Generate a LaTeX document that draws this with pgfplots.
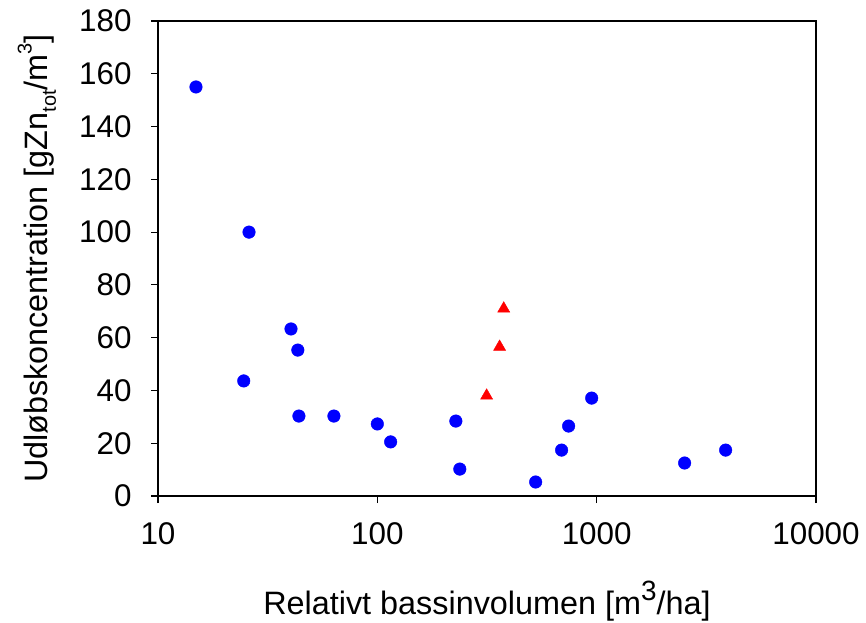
\documentclass[border=0pt]{standalone}
\usepackage{fontspec}
\setmainfont{Liberation Sans}
\usepackage{pgfplots}
\pgfplotsset{compat=1.18}
\begin{document}
\begin{tikzpicture}
\useasboundingbox (-158bp,-127bp) rectangle (708bp,496bp);
\begin{axis}[
  at={(0,0)}, anchor=south west,
  scale only axis, width=658bp, height=475bp,
  xmode=log, xmin=10, xmax=10000,
  ymin=0, ymax=180, ytick={0,20,...,180},
  xtick={10,100,1000,10000},
  xticklabels={10,100,1000,10000},
  xminorticks=false,
  /pgf/number format/assume math mode=true,
  axis line style={line width=1.2bp},
  every tick/.style={black, line width=1.2bp},
  tick align=outside, major tick length=7bp,
  xtick pos=bottom, ytick pos=left,
  tick label style={font=\fontsize{31.5}{36}\selectfont},
  yticklabel style={xshift=-16bp},
  xticklabel style={yshift=-16bp},
  label style={font=\fontsize{32.5}{36}\selectfont},
  xlabel={Relativt bassinvolumen [m\raisebox{0.42em}{\fontsize{28}{28}\selectfont 3}/ha]},
  ylabel={Udløbskoncentration [gZn\raisebox{-0.25em}{\fontsize{20}{20}\selectfont tot}/m\raisebox{0.5em}{\fontsize{20}{20}\selectfont 3}]},
  xlabel style={at={(axis description cs:0.5,0)}, anchor=center, yshift=-105bp},
  ylabel style={at={(axis description cs:0,0.5)}, anchor=center, yshift=121bp},
  clip=false,
]
\addplot[only marks, mark=*, mark size=6.3bp, color={rgb,255:red,0;green,0;blue,255}, mark options={draw=none, fill={rgb,255:red,0;green,0;blue,255}}] coordinates {
(14.9,155) (26.0,100) (24.6,43.6) (40.4,63.3) (43.4,55.3) (43.9,30.3)
(63.4,30.3) (100,27.3) (115,20.5) (228,28.4) (237.7,10.2) (527,5.3)
(692,17.4) (745,26.5) (949,37.1) (2518,12.5) (3873,17.4)
};
\addplot[only marks, mark=triangle*, mark size=7bp, color=red, mark options={draw=none, fill=red}] coordinates {
(377,71) (361,56.5) (315,38)
};
\end{axis}
\end{tikzpicture}
\end{document}
